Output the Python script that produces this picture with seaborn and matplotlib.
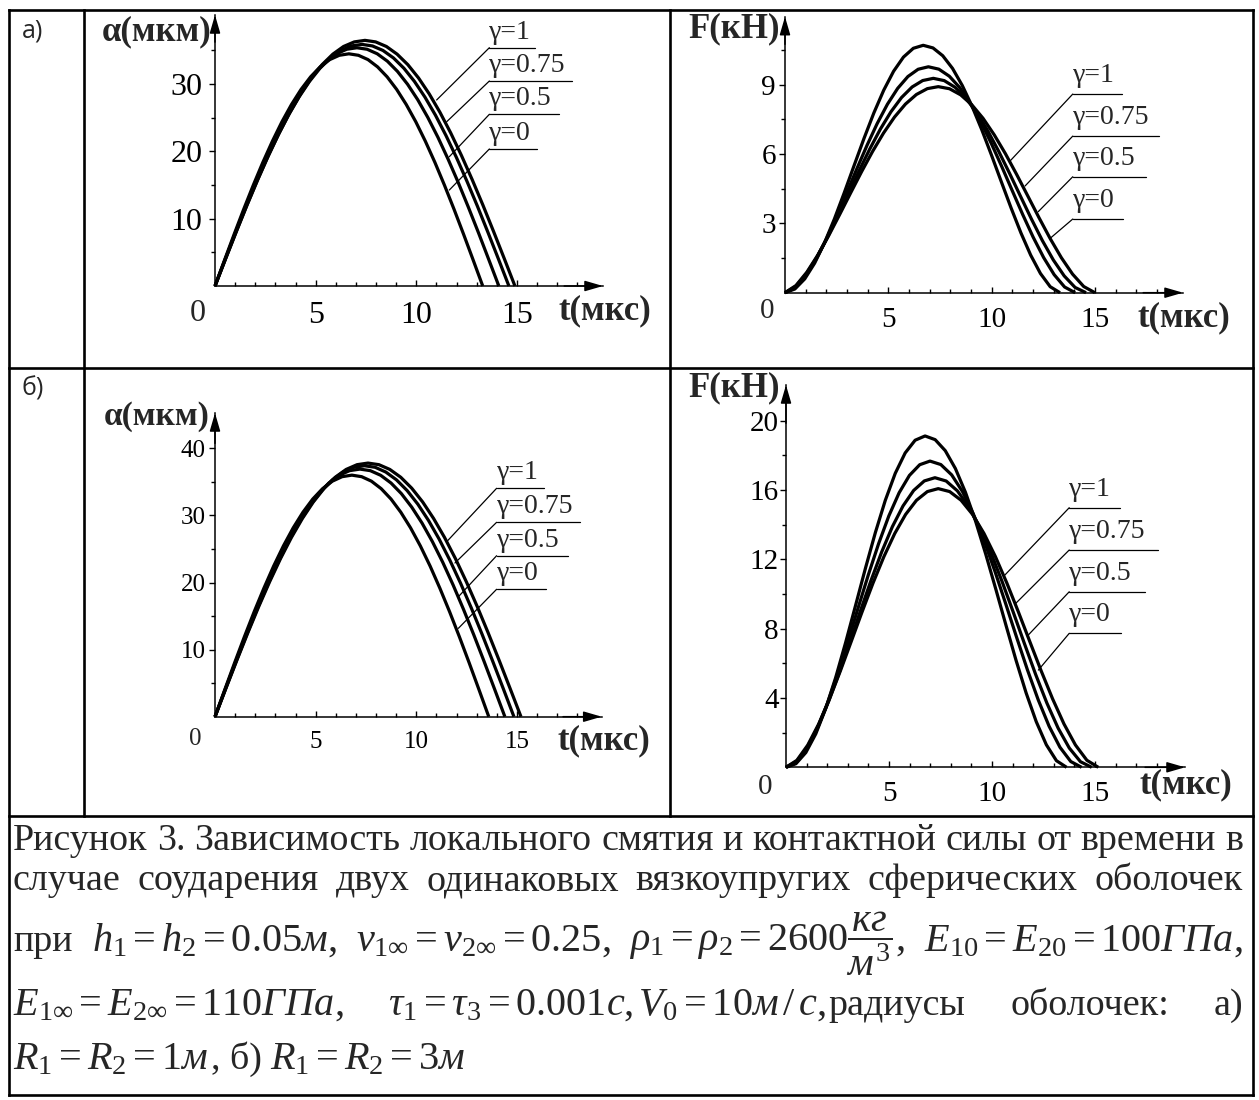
import numpy as np
import pandas as pd
import matplotlib
matplotlib.use("Agg")
import matplotlib.pyplot as plt
import seaborn as sns
from matplotlib.ticker import FixedLocator

# ---------------- data ----------------
CURVE_NAMES = ["γ=0", "γ=0.5", "γ=0.75", "γ=1"]
LABEL_TEXTS = ["γ=1", "γ=0.75", "γ=0.5", "γ=0"]

# a) local crush alpha(t), mkm
AL_T0 = [0, 0.475, 0.95, 1.425, 1.9, 2.375, 2.85, 3.325, 3.8, 4.275, 4.75, 5.225, 5.7, 6.175, 6.65, 7.125, 7.6, 8.075, 8.55, 9.025, 9.5, 9.975, 10.45, 10.925, 11.4, 11.875, 12.35, 12.825, 13.3]
AL_A0 = [0, 3.86, 7.68, 11.40, 14.97, 18.36, 21.51, 24.40, 26.97, 29.21, 31.08, 32.56, 33.64, 34.28, 34.5, 34.28, 33.64, 32.56, 31.08, 29.21, 26.97, 24.40, 21.51, 18.36, 14.97, 11.40, 7.68, 3.86, 0]
AL_T05 = [0, 0.504, 1.007, 1.511, 2.014, 2.518, 3.021, 3.525, 4.029, 4.532, 5.036, 5.539, 6.043, 6.546, 7.05, 7.554, 8.057, 8.561, 9.064, 9.568, 10.071, 10.575, 11.079, 11.582, 12.086, 12.589, 13.093, 13.596, 14.1]
AL_A05 = [0, 3.96, 7.88, 11.69, 15.36, 18.83, 22.07, 25.03, 27.68, 29.97, 31.89, 33.41, 34.51, 35.18, 35.4, 35.18, 34.51, 33.41, 31.89, 29.97, 27.68, 25.03, 22.07, 18.83, 15.36, 11.69, 7.88, 3.96, 0]
AL_T075 = [0, 0.521, 1.043, 1.564, 2.086, 2.607, 3.129, 3.65, 4.171, 4.693, 5.214, 5.736, 6.257, 6.779, 7.3, 7.821, 8.343, 8.864, 9.386, 9.907, 10.429, 10.95, 11.471, 11.993, 12.514, 13.036, 13.557, 14.079, 14.6]
AL_A075 = [0, 4.02, 7.99, 11.86, 15.58, 19.10, 22.38, 25.39, 28.07, 30.40, 32.35, 33.89, 35.00, 35.67, 35.9, 35.67, 35.00, 33.89, 32.35, 30.40, 28.07, 25.39, 22.38, 19.10, 15.58, 11.86, 7.99, 4.02, 0]
AL_T1 = [0, 0.532, 1.064, 1.596, 2.129, 2.661, 3.193, 3.725, 4.257, 4.789, 5.321, 5.854, 6.386, 6.918, 7.45, 7.982, 8.514, 9.046, 9.579, 10.111, 10.643, 11.175, 11.707, 12.239, 12.771, 13.304, 13.836, 14.368, 14.9]
AL_A1 = [0, 4.09, 8.12, 12.06, 15.84, 19.42, 22.76, 25.81, 28.54, 30.91, 32.89, 34.45, 35.59, 36.27, 36.5, 36.27, 35.59, 34.45, 32.89, 30.91, 28.54, 25.81, 22.76, 19.42, 15.84, 12.06, 8.12, 4.09, 0]

# a) contact force F(t), kN
AR_T0 = [0, 0.478, 0.956, 1.434, 1.911, 2.389, 2.867, 3.345, 3.823, 4.301, 4.779, 5.256, 5.734, 6.212, 6.69, 7.163, 7.636, 8.109, 8.581, 9.054, 9.527, 10.0, 10.473, 10.946, 11.419, 11.891, 12.364, 12.837, 13.31]
AR_F0 = [0, 0.160, 0.598, 1.277, 2.156, 3.188, 4.324, 5.506, 6.676, 7.782, 8.767, 9.586, 10.200, 10.581, 10.71, 10.596, 10.258, 9.709, 8.970, 8.071, 7.048, 5.942, 4.797, 3.663, 2.590, 1.629, 0.832, 0.259, 0]
AR_T05 = [0, 0.496, 0.991, 1.487, 1.983, 2.479, 2.974, 3.47, 3.966, 4.461, 4.957, 5.453, 5.949, 6.444, 6.94, 7.447, 7.954, 8.461, 8.969, 9.476, 9.983, 10.49, 10.997, 11.504, 12.011, 12.519, 13.026, 13.533, 14.04]
AR_F05 = [0, 0.216, 0.715, 1.421, 2.285, 3.260, 4.296, 5.349, 6.371, 7.320, 8.157, 8.845, 9.358, 9.673, 9.78, 9.677, 9.372, 8.876, 8.208, 7.395, 6.468, 5.464, 4.422, 3.388, 2.405, 1.521, 0.783, 0.247, 0]
AR_T075 = [0, 0.513, 1.026, 1.539, 2.051, 2.564, 3.077, 3.59, 4.103, 4.616, 5.129, 5.641, 6.154, 6.667, 7.18, 7.708, 8.236, 8.764, 9.291, 9.819, 10.347, 10.875, 11.403, 11.931, 12.459, 12.986, 13.514, 14.042, 14.57]
AR_F075 = [0, 0.264, 0.807, 1.534, 2.389, 3.328, 4.307, 5.284, 6.221, 7.082, 7.833, 8.449, 8.906, 9.185, 9.28, 9.181, 8.889, 8.415, 7.777, 7.000, 6.115, 5.157, 4.167, 3.184, 2.253, 1.419, 0.727, 0.227, 0]
AR_T1 = [0, 0.53, 1.06, 1.59, 2.12, 2.65, 3.18, 3.71, 4.24, 4.77, 5.3, 5.83, 6.36, 6.89, 7.42, 7.961, 8.503, 9.044, 9.586, 10.127, 10.669, 11.21, 11.751, 12.293, 12.834, 13.376, 13.917, 14.459, 15.0]
AR_F1 = [0, 0.311, 0.891, 1.632, 2.480, 3.391, 4.324, 5.243, 6.117, 6.912, 7.603, 8.165, 8.580, 8.834, 8.92, 8.830, 8.565, 8.133, 7.549, 6.835, 6.017, 5.123, 4.189, 3.250, 2.345, 1.516, 0.806, 0.268, 0]

# b) local crush alpha(t), mkm
BL_T0 = [0, 0.486, 0.971, 1.457, 1.943, 2.429, 2.914, 3.4, 3.886, 4.371, 4.857, 5.343, 5.829, 6.314, 6.8, 7.286, 7.771, 8.257, 8.743, 9.229, 9.714, 10.2, 10.686, 11.171, 11.657, 12.143, 12.629, 13.114, 13.6]
BL_A0 = [0, 4.03, 8.01, 11.89, 15.62, 19.15, 22.45, 25.46, 28.15, 30.48, 32.44, 33.98, 35.10, 35.77, 36.0, 35.77, 35.10, 33.98, 32.44, 30.48, 28.15, 25.46, 22.45, 19.15, 15.62, 11.89, 8.01, 4.03, 0]
BL_T05 = [0, 0.514, 1.029, 1.543, 2.057, 2.571, 3.086, 3.6, 4.114, 4.629, 5.143, 5.657, 6.171, 6.686, 7.2, 7.714, 8.229, 8.743, 9.257, 9.771, 10.286, 10.8, 11.314, 11.829, 12.343, 12.857, 13.371, 13.886, 14.4]
BL_A05 = [0, 4.13, 8.21, 12.19, 16.01, 19.63, 23.01, 26.09, 28.85, 31.24, 33.25, 34.83, 35.98, 36.67, 36.9, 36.67, 35.98, 34.83, 33.25, 31.24, 28.85, 26.09, 23.01, 19.63, 16.01, 12.19, 8.21, 4.13, 0]
BL_T075 = [0, 0.53, 1.061, 1.591, 2.121, 2.652, 3.182, 3.713, 4.243, 4.773, 5.304, 5.834, 6.364, 6.895, 7.425, 7.955, 8.486, 9.016, 9.546, 10.077, 10.607, 11.138, 11.668, 12.198, 12.729, 13.259, 13.789, 14.32, 14.85]
BL_A075 = [0, 4.19, 8.32, 12.35, 16.23, 19.90, 23.32, 26.45, 29.24, 31.67, 33.70, 35.30, 36.46, 37.17, 37.4, 37.17, 36.46, 35.30, 33.70, 31.67, 29.24, 26.45, 23.32, 19.90, 16.23, 12.35, 8.32, 4.19, 0]
BL_T1 = [0, 0.543, 1.086, 1.629, 2.171, 2.714, 3.257, 3.8, 4.343, 4.886, 5.429, 5.971, 6.514, 7.057, 7.6, 8.143, 8.686, 9.229, 9.771, 10.314, 10.857, 11.4, 11.943, 12.486, 13.029, 13.571, 14.114, 14.657, 15.2]
BL_A1 = [0, 4.23, 8.41, 12.49, 16.40, 20.11, 23.57, 26.73, 29.55, 32.01, 34.06, 35.68, 36.85, 37.56, 37.8, 37.56, 36.85, 35.68, 34.06, 32.01, 29.55, 26.73, 23.57, 20.11, 16.40, 12.49, 8.41, 4.23, 0]

# b) contact force F(t), kN
BR_T0 = [0, 0.482, 0.964, 1.446, 1.929, 2.411, 2.893, 3.375, 3.857, 4.339, 4.821, 5.304, 5.786, 6.268, 6.75, 7.241, 7.731, 8.222, 8.713, 9.204, 9.694, 10.185, 10.676, 11.166, 11.657, 12.148, 12.639, 13.129, 13.62]
BR_F0 = [0, 0.206, 0.852, 1.930, 3.396, 5.177, 7.191, 9.331, 11.488, 13.549, 15.408, 16.965, 18.141, 18.873, 19.12, 18.906, 18.271, 17.242, 15.864, 14.197, 12.308, 10.281, 8.207, 6.179, 4.290, 2.633, 1.298, 0.380, 0]
BR_T05 = [0, 0.499, 0.999, 1.498, 1.997, 2.496, 2.996, 3.495, 3.994, 4.494, 4.993, 5.492, 5.991, 6.491, 6.99, 7.516, 8.041, 8.567, 9.093, 9.619, 10.144, 10.67, 11.196, 11.721, 12.247, 12.773, 13.299, 13.824, 14.35]
BR_F05 = [0, 0.282, 1.031, 2.175, 3.643, 5.358, 7.232, 9.175, 11.095, 12.899, 14.508, 15.842, 16.842, 17.460, 17.67, 17.469, 16.875, 15.912, 14.624, 13.065, 11.305, 9.420, 7.496, 5.621, 3.883, 2.367, 1.156, 0.332, 0]
BR_T075 = [0, 0.516, 1.033, 1.549, 2.066, 2.582, 3.099, 3.615, 4.131, 4.648, 5.164, 5.681, 6.197, 6.714, 7.23, 7.774, 8.317, 8.861, 9.404, 9.948, 10.491, 11.035, 11.579, 12.122, 12.666, 13.209, 13.753, 14.296, 14.84]
BR_F075 = [0, 0.343, 1.160, 2.339, 3.796, 5.452, 7.225, 9.032, 10.796, 12.436, 13.885, 15.082, 15.975, 16.524, 16.71, 16.521, 15.955, 15.056, 13.843, 12.375, 10.716, 8.940, 7.123, 5.349, 3.702, 2.262, 1.109, 0.321, 0]
BR_T1 = [0, 0.528, 1.056, 1.584, 2.111, 2.639, 3.167, 3.695, 4.223, 4.751, 5.279, 5.806, 6.334, 6.862, 7.39, 7.945, 8.5, 9.055, 9.61, 10.165, 10.72, 11.275, 11.83, 12.385, 12.94, 13.495, 14.05, 14.605, 15.16]
BR_F1 = [0, 0.403, 1.282, 2.492, 3.945, 5.560, 7.262, 8.974, 10.628, 12.152, 13.491, 14.591, 15.407, 15.910, 16.08, 15.910, 15.408, 14.593, 13.496, 12.159, 10.634, 8.983, 7.271, 5.570, 3.954, 2.500, 1.288, 0.406, 0]

# tick values
X_MAJOR = [5, 10, 15]
X_MINOR = [1, 2, 3, 4, 6, 7, 8, 9, 11, 12, 13, 14, 16, 17, 18]
AL_Y_MAJOR = [10, 20, 30]
AL_Y_MINOR = [5, 15, 25, 35]
AR_Y_MAJOR = [3, 6, 9]
AR_Y_MINOR = [1.5, 4.5, 7.5, 10.5]
BL_Y_MAJOR = [10, 20, 30, 40]
BL_Y_MINOR = [5, 15, 25, 35]
BR_Y_MAJOR = [4, 8, 12, 16, 20]
BR_Y_MINOR = [2, 6, 10, 14, 18]

# caption text
CAP_LINE1 = "Рисунок 3. Зависимость локального смятия и контактной силы от времени в"
CAP_LINE2 = "случае соударения двух одинаковых вязкоупругих сферических оболочек"
CAP_LINE3 = ["при", r"$h_1 = h_2 = 0.05м,$", r"$\nu_{1\infty} = \nu_{2\infty} = 0.25,$",
             r"$\rho_1 = \rho_2 = 2600\dfrac{кг}{м^3},$", r"$E_{10} = E_{20} = 100ГПа,$"]
CAP_LINE4 = [r"$E_{1\infty} = E_{2\infty} = 110ГПа,$", r"$\tau_1 = \tau_3 = 0.001с,$",
             r"$V_0 = 10м\,/\,с,$", "радиусы", "оболочек:", "а)"]
CAP_LINE5 = [r"$R_1 = R_2 = 1м$", ", б)", r"$R_1 = R_2 = 3м$"]

# ---------------- style ----------------
sns.set_theme(style="white")
plt.rcParams["font.family"] = ["Liberation Serif", "DejaVu Serif"]
plt.rcParams["mathtext.fontset"] = "custom"
plt.rcParams["mathtext.rm"] = "Liberation Serif"
plt.rcParams["mathtext.it"] = "Liberation Serif:italic"
plt.rcParams["mathtext.bf"] = "Liberation Serif:bold"

W, H = 1259, 1100
fig = plt.figure(figsize=(W / 100, H / 100), dpi=100)
fig.patch.set_facecolor("white")

bg = fig.add_axes([0, 0, 1, 1], zorder=0)
bg.set_xlim(0, W)
bg.set_ylim(H, 0)
bg.axis("off")

# table frame
TL = 1.9
XL, XR, YT, YB = 9, 1253, 10, 1095
ROW1, ROW2 = 368, 816
COL1, COL2 = 84, 670
for y in (YT, ROW1, ROW2, YB):
    bg.plot([XL, XR], [y, y], color="black", lw=TL, solid_capstyle="projecting")
for x in (XL, XR):
    bg.plot([x, x], [YT, YB], color="black", lw=TL, solid_capstyle="projecting")
for x in (COL1, COL2):
    bg.plot([x, x], [YT, ROW2], color="black", lw=TL, solid_capstyle="projecting")

bg.text(22, 31, "а)", family=["Open Sans", "DejaVu Sans"], fontsize=18, va="center", ha="left")
bg.text(22, 389, "б)", family=["Open Sans", "DejaVu Sans"], fontsize=18, va="center", ha="left")


def build_panel(geom, ts, vs, ymaj, ymin, tick_fs, xpad, ypad, ann, ann_gap):
    x0, y0, x1, y1, sx, sy = geom
    ax = fig.add_axes([x0 / W, 1 - y0 / H, (x1 - x0) / W, (y0 - y1) / H], zorder=2)
    ax.set_facecolor("none")
    frames = [pd.DataFrame({"t": t, "v": v, "curve": name})
              for t, v, name in zip(ts, vs, CURVE_NAMES)]
    df = pd.concat(frames, ignore_index=True)
    sns.lineplot(data=df, x="t", y="v", units="curve", estimator=None, sort=False,
                 color="black", linewidth=2.3, ax=ax, legend=False)
    for ln in ax.lines:
        ln.set_clip_on(False)
        ln.set_solid_capstyle("butt")
    ax.set_xlim(0, (x1 - x0) / sx)
    ax.set_ylim(0, (y0 - y1) / sy)
    ax.set_xlabel("")
    ax.set_ylabel("")
    for s in ("top", "right"):
        ax.spines[s].set_visible(False)
    for s in ("left", "bottom"):
        ax.spines[s].set_color("black")
        ax.spines[s].set_linewidth(1.1)
    ax.set_xticks(X_MAJOR)
    ax.set_xticklabels([str(v) for v in X_MAJOR])
    ax.xaxis.set_minor_locator(FixedLocator(X_MINOR))
    ax.set_yticks(ymaj)
    ax.set_yticklabels([str(v) for v in ymaj])
    ax.yaxis.set_minor_locator(FixedLocator(ymin))
    ax.tick_params(axis="x", which="major", bottom=True, direction="in", length=4, width=1,
                   color="black", pad=xpad, labelsize=tick_fs, labelcolor="black")
    ax.tick_params(axis="x", which="minor", bottom=True, direction="in", length=3, width=1, color="black")
    ax.tick_params(axis="y", which="major", left=True, direction="out", length=4, width=1,
                   color="black", pad=ypad, labelsize=tick_fs, labelcolor="black")
    ax.tick_params(axis="y", which="minor", left=True, direction="out", length=3, width=1, color="black")
    ax.grid(False)
    arrow = dict(arrowstyle="-|>,head_length=1.1,head_width=0.32", color="black", lw=1.1,
                 shrinkA=0, shrinkB=0, mutation_scale=10)
    ax.annotate("", xy=(1, 0), xycoords="axes fraction", xytext=(0.9, 0),
                textcoords="axes fraction", arrowprops=arrow, annotation_clip=False)
    ax.annotate("", xy=(0, 1), xycoords="axes fraction", xytext=(0, 0.9),
                textcoords="axes fraction", arrowprops=arrow, annotation_clip=False)
    lx0, lx1, ly, ldx, ldy = ann
    for i, txt in enumerate(LABEL_TEXTS):
        ax.plot([lx0, lx1[i]], [ly[i], ly[i]], color="black", lw=0.9, clip_on=False)
        ax.plot([ldx[i], lx0], [ldy[i], ly[i]], color="black", lw=0.9, clip_on=False)
        ax.text(lx0, ly[i] + ann_gap / sy, txt, ha="left", va="baseline", fontsize=20)
    return ax


# a) alpha
build_panel((215, 286, 603, 15, 20.13, 6.73),
            [AL_T0, AL_T05, AL_T075, AL_T1], [AL_A0, AL_A05, AL_A075, AL_A1],
            AL_Y_MAJOR, AL_Y_MINOR, 23, 10.6, 5.0,
            (13.63, [15.90, 17.71, 17.09, 15.98], [35.41, 30.46, 25.51, 20.36],
             [11.01, 11.51, 11.64, 11.64], [27.64, 24.41, 19.21, 14.26]), 9)
# a) force
build_panel((785, 292.7, 1183, 16.7, 20.66, 23.1),
            [AR_T0, AR_T05, AR_T075, AR_T1], [AR_F0, AR_F05, AR_F075, AR_F1],
            AR_Y_MAJOR, AR_Y_MINOR, 21, 10.6, 2.5,
            (13.93, [16.30, 18.10, 17.47, 16.37], [8.60, 6.78, 5.02, 3.19],
             [10.86, 11.62, 12.26, 12.83], [5.67, 4.62, 3.51, 2.35]), 12)
# b) alpha
build_panel((215, 716.7, 601.7, 413, 20.13, 6.71),
            [BL_T0, BL_T05, BL_T075, BL_T1], [BL_A0, BL_A05, BL_A075, BL_A1],
            BL_Y_MAJOR, BL_Y_MINOR, 18, 10.4, 2.6,
            (13.99, [16.34, 18.13, 17.52, 16.43], [34.04, 28.97, 23.99, 18.99],
             [11.51, 11.92, 12.09, 12.09], [26.08, 22.91, 17.88, 13.17]), 9)
# b) force
build_panel((786, 767.3, 1185, 385, 20.6, 17.33),
            [BR_T0, BR_T05, BR_T075, BR_T1], [BR_F0, BR_F05, BR_F075, BR_F1],
            BR_Y_MAJOR, BR_Y_MINOR, 21, 10.0, 1.2,
            (13.75, [16.19, 18.04, 17.43, 16.26], [14.98, 12.54, 10.13, 7.73],
             [10.63, 11.12, 11.76, 12.25], [11.10, 9.42, 7.63, 5.61]), 12)

# origin "0" labels
bg.text(198, 321, "0", fontsize=23, ha="center", va="baseline")
bg.text(767, 318, "0", fontsize=21, ha="center", va="baseline")
bg.text(195, 745, "0", fontsize=18, ha="center", va="baseline")
bg.text(765, 794, "0", fontsize=21, ha="center", va="baseline")

# axis titles
AX_FS = 25
bg.text(212, 32, "α(мкм)", fontsize=AX_FS, weight="bold", ha="right", va="center")
bg.text(559, 311, "t(мкс)", fontsize=AX_FS, weight="bold", ha="left", va="center")
bg.text(780, 29, "F(кН)", fontsize=AX_FS, weight="bold", ha="right", va="center")
bg.text(1138, 318, "t(мкс)", fontsize=AX_FS, weight="bold", ha="left", va="center")
bg.text(210, 416, "α(мкм)", fontsize=24, weight="bold", ha="right", va="center")
bg.text(558, 741, "t(мкс)", fontsize=AX_FS, weight="bold", ha="left", va="center")
bg.text(780, 388, "F(кН)", fontsize=AX_FS, weight="bold", ha="right", va="center")
bg.text(1140, 785, "t(мкс)", fontsize=AX_FS, weight="bold", ha="left", va="center")

# ---------------- caption (justified) ----------------
fig.canvas.draw()
renderer = fig.canvas.get_renderer()
CL, CR = 13, 1243
MATH_SCALE = 1.06


def tw(t):
    return t.get_window_extent(renderer=renderer).width


probe = bg.text(CL, 850, CAP_LINE1, fontsize=22, va="baseline", ha="left")
cap_fs = 22 * (CR - CL) / tw(probe)
probe.remove()


def justify(tokens, y, fs, weights=None, base=None):
    n = len(tokens)
    if weights is None:
        weights = [1] * (n - 1)
    if base is None:
        base = [0] * (n - 1)
    objs = [bg.text(0, y, tk, va="baseline", ha="left",
                    fontsize=fs * (MATH_SCALE if "$" in tk else 1.0)) for tk in tokens]
    widths = [tw(o) for o in objs]
    free = CR - CL - sum(widths) - sum(base)
    if free < 0:
        f = (CR - CL - sum(base)) / sum(widths)
        for o in objs:
            o.set_fontsize(o.get_fontsize() * f)
        widths = [tw(o) for o in objs]
        free = CR - CL - sum(widths) - sum(base)
    x = CL
    for i, (o, wd) in enumerate(zip(objs, widths)):
        o.set_x(x)
        if i < n - 1:
            x += wd + base[i] + free * weights[i] / sum(weights)


def place_run(tokens, y, fs, gaps):
    x = CL
    for i, tk in enumerate(tokens):
        o = bg.text(x, y, tk, va="baseline", ha="left",
                    fontsize=fs * (MATH_SCALE if "$" in tk else 1.0))
        x += tw(o) + (gaps[i] if i < len(gaps) else 0)


justify(CAP_LINE1.split(" "), 850, cap_fs)
justify(CAP_LINE2.split(" "), 890, cap_fs)
justify(CAP_LINE3, 951, cap_fs, base=[12, 12, 12, 12])
justify(CAP_LINE4, 1015, cap_fs, weights=[1, 0, 0, 1, 1], base=[10, 4, 3, 10, 10])
place_run(CAP_LINE5, 1069, cap_fs, [3, 8])

fig.savefig("out.png", dpi=100, facecolor="white")
